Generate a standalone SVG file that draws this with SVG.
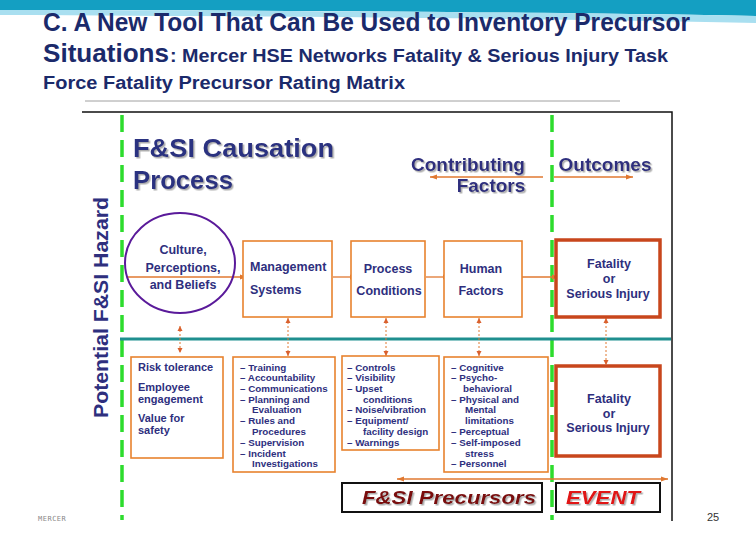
<svg xmlns="http://www.w3.org/2000/svg" width="756" height="540" viewBox="0 0 756 540">
<defs>
<style>
.hd{font-family:"Liberation Sans Narrow","Liberation Sans",Arial,sans-serif;font-weight:bold;fill:#1b2a6b}
.t{font-family:"Liberation Sans",Arial,sans-serif;font-weight:bold;fill:#2e2f7e}
.big{font-family:"Liberation Sans",Arial,sans-serif;font-weight:bold;fill:#2b3080;font-size:25px}
.ob{fill:#fff;stroke:#e8822e;stroke-width:1.6}
.fb{fill:#fff;stroke:#c8461c;stroke-width:3.5}
.lb{font-size:9.8px}
.mb{font-size:12.5px}
.con{stroke:#e07830;stroke-width:1.3;fill:none}
.dot{stroke:#e07830;stroke-width:1;stroke-dasharray:2 2;fill:none}
.grn{stroke:#2ddc2d;stroke-width:3.5;stroke-dasharray:17 8;fill:none}
</style>
<marker id="ah" markerWidth="8" markerHeight="8" refX="7" refY="4" orient="auto-start-reverse" markerUnits="userSpaceOnUse"><path d="M0,1.5 L7,4 L0,6.5 z" fill="#e07830"/></marker>
<marker id="as" markerWidth="6" markerHeight="6" refX="5" refY="3" orient="auto-start-reverse" markerUnits="userSpaceOnUse"><path d="M0,0.5 L5,3 L0,5.5 z" fill="#d9602e"/></marker>
<filter id="sh" x="-5%" y="-20%" width="110%" height="150%"><feDropShadow dx="1.5" dy="1.5" stdDeviation="0.6" flood-color="#9a9a9a" flood-opacity="0.8"/></filter>
</defs>
<rect width="756" height="540" fill="#fff"/>
<!-- header banner -->
<path d="M0,0 H756 V16 C600,13 300,10 0,10 Z" fill="#149fc2"/>
<path d="M0,10 C300,10 600,13 756,16 V23 C620,20 400,17 0,15 Z" fill="#a9dff0"/>
<g id="title">
<text class="hd" x="43" y="31" font-size="25" textLength="647" lengthAdjust="spacingAndGlyphs">C.  A New Tool That Can Be Used to Inventory Precursor</text>
<text class="hd" x="43" y="62" font-size="25" textLength="126" lengthAdjust="spacingAndGlyphs">Situations</text>
<text class="hd" x="170" y="62" font-size="18" textLength="498" lengthAdjust="spacingAndGlyphs">:  Mercer HSE Networks Fatality &amp; Serious Injury Task</text>
<text class="hd" x="43" y="89" font-size="18" textLength="362" lengthAdjust="spacingAndGlyphs">Force Fatality Precursor Rating Matrix</text>
</g>
<line x1="85" y1="101" x2="620" y2="101" stroke="#a0a0a0" stroke-width="1"/>
<!-- frame -->
<path d="M82,112 H672 V521" fill="none" stroke="#111" stroke-width="1.5"/>
<!-- green dividers -->
<line class="grn" x1="122" y1="115" x2="122" y2="520"/>
<line class="grn" x1="552" y1="115" x2="552" y2="520"/>
<!-- teal line -->
<line x1="120" y1="339" x2="671" y2="339" stroke="#1f8f8f" stroke-width="3"/>
<g id="hazard-label">
<text class="t" transform="translate(108,418) rotate(-90)" font-size="21" fill="#2e2f7e" textLength="221" lengthAdjust="spacingAndGlyphs">Potential F&amp;SI Hazard</text>
</g>
<g id="causation-title" filter="url(#sh)">
<text class="big" x="133" y="157" textLength="201" lengthAdjust="spacingAndGlyphs">F&amp;SI Causation</text>
<text class="big" x="133" y="189" textLength="100" lengthAdjust="spacingAndGlyphs">Process</text>
</g>
<g id="contributing-factors" filter="url(#sh)">
<text class="t" x="468" y="171" font-size="19" text-anchor="middle">Contributing</text>
<text class="t" x="491" y="192" font-size="19" text-anchor="middle">Factors</text>
</g>
<g id="outcomes" filter="url(#sh)">
<text class="t" x="605" y="171" font-size="19" text-anchor="middle">Outcomes</text>
</g>
<!-- connectors -->
<g id="connectors">
<line class="con" x1="543" y1="177" x2="430" y2="177" marker-end="url(#ah)"/>
<line class="con" x1="554" y1="177" x2="633" y2="177" marker-end="url(#ah)"/>
<line class="con" x1="127" y1="277" x2="247" y2="277" marker-end="url(#ah)"/>
<line class="con" x1="333" y1="277" x2="357" y2="277" marker-end="url(#ah)"/>
<line class="con" x1="426" y1="277" x2="450" y2="277" marker-end="url(#ah)"/>
<line class="con" x1="518" y1="277" x2="559" y2="277" marker-end="url(#ah)"/>
<line class="dot" x1="180" y1="326" x2="180" y2="353" marker-start="url(#as)" marker-end="url(#as)"/>
<line class="dot" x1="288" y1="318" x2="288" y2="356" marker-start="url(#as)" marker-end="url(#as)"/>
<line class="dot" x1="386" y1="318" x2="386" y2="356" marker-start="url(#as)" marker-end="url(#as)"/>
<line class="dot" x1="479" y1="318" x2="479" y2="356" marker-start="url(#as)" marker-end="url(#as)"/>
<line class="dot" x1="606" y1="318" x2="606" y2="365" marker-start="url(#as)" marker-end="url(#as)"/>
<line class="con" x1="397" y1="479" x2="668" y2="479" marker-start="url(#ah)" marker-end="url(#ah)"/>
</g>
<g id="culture">
<ellipse cx="180" cy="263" rx="55" ry="50" fill="none" stroke="#5a1a9a" stroke-width="2"/>
<text class="t mb" x="183" y="254" text-anchor="middle">Culture,</text>
<text class="t mb" x="183" y="272" text-anchor="middle">Perceptions,</text>
<text class="t mb" x="183" y="289" text-anchor="middle">and Beliefs</text>
</g>
<g id="management">
<rect class="ob" x="243" y="241" width="89" height="76"/>
<text class="t mb" x="250" y="271">Management</text>
<text class="t mb" x="250" y="294">Systems</text>
</g>
<g id="process">
<rect class="ob" x="351" y="241" width="74" height="76"/>
<text class="t mb" x="388" y="273" text-anchor="middle">Process</text>
<text class="t mb" x="389" y="295" text-anchor="middle">Conditions</text>
</g>
<g id="human">
<rect class="ob" x="444" y="241" width="78" height="76"/>
<text class="t mb" x="481" y="273" text-anchor="middle">Human</text>
<text class="t mb" x="481" y="295" text-anchor="middle">Factors</text>
</g>
<g id="fatality-top">
<rect class="fb" x="556" y="240" width="104" height="77"/>
<text class="t mb" x="609" y="268" text-anchor="middle">Fatality</text>
<text class="t mb" x="609" y="283" text-anchor="middle">or</text>
<text class="t mb" x="608" y="298" text-anchor="middle">Serious Injury</text>
</g>
<g id="culture-list">
<rect class="ob" x="131" y="357" width="92" height="101"/>
<text class="t" font-size="11" x="138" y="371">Risk tolerance</text>
<text class="t" font-size="11" x="138" y="391">Employee</text>
<text class="t" font-size="11" x="138" y="403">engagement</text>
<text class="t" font-size="11" x="138" y="422">Value for</text>
<text class="t" font-size="11" x="138" y="434">safety</text>
</g>
<g id="management-list">
<rect class="ob" x="233" y="357" width="102" height="115"/>
<text class="t lb" x="240" y="370.5">– Training</text>
<text class="t lb" x="240" y="380.5">– Accountability</text>
<text class="t lb" x="240" y="391.5">– Communications</text>
<text class="t lb" x="240" y="402.5">– Planning and</text>
<text class="t lb" x="252" y="412.5">Evaluation</text>
<text class="t lb" x="240" y="423.5">– Rules and</text>
<text class="t lb" x="252" y="434.5">Procedures</text>
<text class="t lb" x="240" y="445.5">– Supervision</text>
<text class="t lb" x="240" y="456.5">– Incident</text>
<text class="t lb" x="252" y="466.5">Investigations</text>
</g>
<g id="process-list">
<rect class="ob" x="342" y="356" width="97" height="94"/>
<text class="t lb" x="347" y="370.5">–  Controls</text>
<text class="t lb" x="347" y="380.5">–  Visibility</text>
<text class="t lb" x="347" y="391.5">–   Upset</text>
<text class="t lb" x="363" y="402.5">conditions</text>
<text class="t lb" x="347" y="412.5">–  Noise/vibration</text>
<text class="t lb" x="347" y="423.5">–  Equipment/</text>
<text class="t lb" x="363" y="434.5">facility design</text>
<text class="t lb" x="347" y="445.5">–  Warnings</text>
</g>
<g id="human-list">
<rect class="ob" x="444" y="357" width="104" height="115"/>
<text class="t lb" x="451" y="370.5">– Cognitive</text>
<text class="t lb" x="451" y="380.5">–  Psycho-</text>
<text class="t lb" x="463" y="391.5">behavioral</text>
<text class="t lb" x="451" y="402.5">– Physical and</text>
<text class="t lb" x="465" y="412.5">Mental</text>
<text class="t lb" x="465" y="423.5">limitations</text>
<text class="t lb" x="451" y="434.5">– Perceptual</text>
<text class="t lb" x="451" y="445.5">– Self-imposed</text>
<text class="t lb" x="465" y="456.5">stress</text>
<text class="t lb" x="451" y="466.5">– Personnel</text>
</g>
<g id="fatality-bottom">
<rect class="fb" x="556" y="366" width="104" height="90"/>
<text class="t mb" x="609" y="403" text-anchor="middle">Fatality</text>
<text class="t mb" x="609" y="418" text-anchor="middle">or</text>
<text class="t mb" x="608" y="432" text-anchor="middle">Serious Injury</text>
</g>
<g id="precursors">
<rect x="342" y="483" width="200" height="29" fill="#fff" stroke="#111" stroke-width="2"/>
<text x="449" y="504" text-anchor="middle" font-family="'Liberation Sans',Arial,sans-serif" font-weight="bold" font-style="italic" font-size="19" fill="#7a0c0c" filter="url(#sh)" textLength="174" lengthAdjust="spacingAndGlyphs">F&amp;SI Precursors</text>
</g>
<g id="event">
<rect x="556" y="483" width="104" height="29" fill="#fff" stroke="#111" stroke-width="2"/>
<text x="603" y="504" text-anchor="middle" font-family="'Liberation Sans',Arial,sans-serif" font-weight="bold" font-style="italic" font-size="19" fill="#e01212" filter="url(#sh)" textLength="74" lengthAdjust="spacingAndGlyphs">EVENT</text>
</g>
<text x="38" y="521" font-family="'DejaVu Sans Mono',monospace" font-size="7" fill="#888" letter-spacing="0.5">MERCER</text>
<text x="707" y="521" font-family="'Liberation Sans',Arial,sans-serif" font-size="11" fill="#333">25</text>
</svg>
